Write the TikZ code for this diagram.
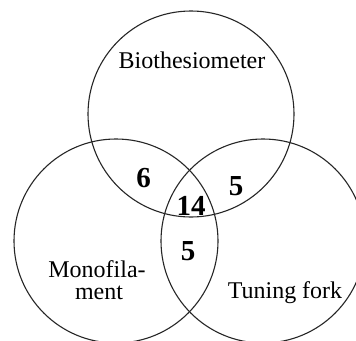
\documentclass[tikz,border=0pt]{standalone}
\usepackage{fontspec}
\setmainfont{Liberation Serif}
\begin{document}
\begin{tikzpicture}[x=1pt,y=-1pt,
  ring/.style={draw=black!85,line width=1.1pt,circle,inner sep=0pt,outer sep=0pt},
  lbl/.style={font=\fontsize{24}{22}\selectfont,anchor=base,inner sep=0pt},
  num/.style={font=\fontsize{29}{30}\selectfont\bfseries,anchor=base,inner sep=0pt}]
\fill[white] (0,0) rectangle (356,340);
\useasboundingbox (0,0) rectangle (356,340);
\clip (0,0) rectangle (356,340);
\node[ring,minimum size=206pt] (bio) at (191,114) {};
\node[ring,minimum size=204pt] (mono) at (116,241) {};
\node[ring,minimum size=204pt] (tune) at (263,241) {};
\node[lbl] (tbio) at (192,68) {Biothesiometer};
\node[lbl] (tmono1) at (97,277) {Monofila-};
\node[lbl] (tmono2) at (99,299) {ment};
\node[lbl] (ttune) at (285,298) {Tuning fork};
\node[num] (n6) at (143.5,187) {6};
\node[num] (n5a) at (236,195) {5};
\node[num] (n14) at (191,215) {14};
\node[num] (n5b) at (188,260) {5};
\end{tikzpicture}
\end{document}
